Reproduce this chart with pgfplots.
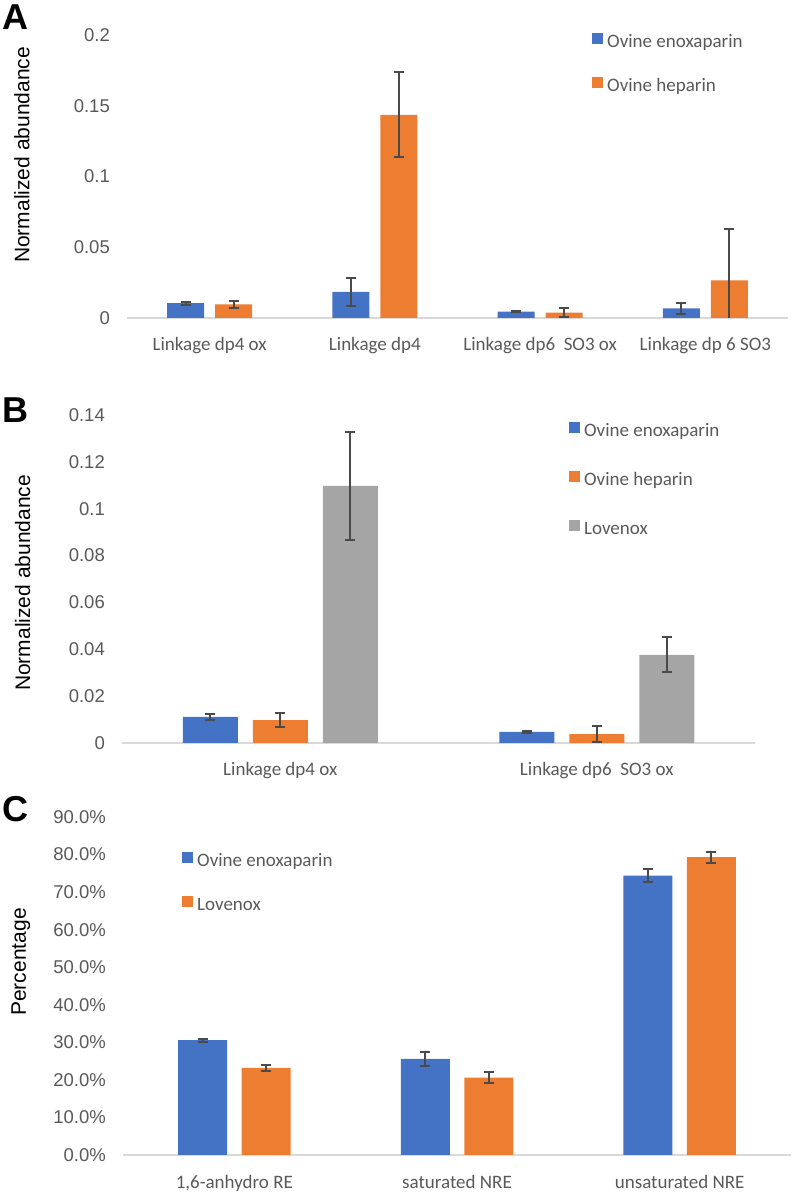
\documentclass[border=0pt]{standalone}
\usepackage{fontspec}
\setmainfont{Liberation Sans}
\newfontfamily\calibri{Carlito}
\usepackage{pgfplots}
\usepackage{pgfplotstable}
\pgfplotsset{compat=1.18}
\definecolor{exblue}{HTML}{4472C4}
\definecolor{exorange}{HTML}{ED7D31}
\definecolor{exgray}{HTML}{A5A5A5}
\definecolor{txtgray}{HTML}{595959}
\definecolor{axgray}{HTML}{D9D9D9}
\definecolor{errc}{HTML}{4A4A4A}

\pgfplotstableread{
x  b      eb     o      eo
0  0.0105 0.0010 0.0097 0.0025
1  0.0184 0.0100 0.1435 0.0300
2  0.0045 0.0004 0.0038 0.0033
3  0.0068 0.0041 0.0266 0.0360
}\dataA
\pgfplotstableread{
x  b      eb     o      eo     g      eg
0  0.0111 0.0013 0.0098 0.0030 0.1097 0.0230
1  0.0047 0.0003 0.0038 0.0035 0.0376 0.0075
}\dataB
\pgfplotstableread{
x  b     eb   o     eo
0  30.6  0.4  23.2  0.8
1  25.6  1.8  20.6  1.4
2  74.4  1.7  79.3  1.5
}\dataC

\pgfplotsset{
  exstyle/.style={
    scale only axis,
    anchor=south west,
    axis x line*=bottom, axis y line*=left,
    x axis line style={draw=axgray, line width=1.5bp},
    y axis line style={draw=none},
    major tick length=0pt,
    tick style={draw=none},
    xticklabel style={font=\calibri\fontsize{19bp}{22bp}\selectfont, text=txtgray, anchor=center, yshift=-29bp, inner sep=0pt, text height=12bp, text depth=4bp},
    yticklabel style={font=\fontsize{18.5bp}{22bp}\selectfont, text=txtgray, anchor=east, inner sep=0pt, xshift=-17bp},
    ylabel style={font=\fontsize{21bp}{25bp}\selectfont, text=black, anchor=center, inner sep=0pt},
    legend cell align=left,
    legend style={draw=none, fill=none, inner sep=0pt, anchor=north west, column sep=4bp,
      font=\calibri\fontsize{19bp}{22bp}\selectfont, text=txtgray,
      nodes={inner sep=0pt, text height=13bp, text depth=5bp}},
  },
  sqlegend/.style={legend image code/.code={\fill[##1] (0bp,-0.5bp) rectangle (11bp,10.5bp);}},
  eb/.style={error bars/.cd, y dir=both, y explicit,
    error bar style={line width=2bp, draw=errc},
    error mark options={rotate=90, mark size=5bp, line width=2bp, draw=errc}},
}

\begin{document}
\begin{tikzpicture}
\path[use as bounding box] (0,0) rectangle (792bp,1192bp);

% Panel A
\begin{axis}[exstyle, ybar=11bp, bar width=37bp,
  at={(127bp,874bp)}, width=661bp, height=283bp,
  xmin=-0.5, xmax=3.5, ymin=0, ymax=0.2,
  xtick={0,1,2,3},
  xticklabels={Linkage dp4 ox, Linkage dp4, Linkage dp6\ \ SO3 ox, Linkage dp 6 SO3},
  ytick={0,0.05,0.1,0.15,0.2},
  yticklabels={0,0.05,0.1,0.15,0.2},
  ylabel={Normalized abundance},
  ylabel style={at={(axis description cs:-0.159,0.576)}},
  legend style={at={(axis description cs:0.7035,1.008)}, row sep=25bp},
  sqlegend,
]
\addplot[fill=exblue, draw=none, eb] table[x=x, y=b, y error=eb] {\dataA};
\addplot[fill=exorange, draw=none, eb] table[x=x, y=o, y error=eo] {\dataA};
\legend{Ovine enoxaparin, Ovine heparin}
\end{axis}

% Panel B
\begin{axis}[exstyle, ybar=15bp, bar width=55bp,
  at={(122bp,449bp)}, width=633bp, height=328bp,
  xmin=-0.5, xmax=1.5, ymin=0, ymax=0.14,
  xtick={0,1},
  xticklabels={Linkage dp4 ox, Linkage dp6\ \ SO3 ox},
  ytick={0,0.02,0.04,0.06,0.08,0.1,0.12,0.14},
  yticklabels={0,0.02,0.04,0.06,0.08,0.1,0.12,0.14},
  ylabel={Normalized abundance},
  ylabel style={at={(axis description cs:-0.157,0.488)}},
  legend style={at={(axis description cs:0.706,0.979)}, row sep=29.5bp},
  sqlegend,
]
\addplot[fill=exblue, draw=none, eb] table[x=x, y=b, y error=eb] {\dataB};
\addplot[fill=exorange, draw=none, eb] table[x=x, y=o, y error=eo] {\dataB};
\addplot[fill=exgray, draw=none, eb] table[x=x, y=g, y error=eg] {\dataB};
\legend{Ovine enoxaparin, Ovine heparin, Lovenox}
\end{axis}

% Panel C
\begin{axis}[exstyle, ybar=14.5bp, bar width=49bp,
  at={(123bp,37bp)}, width=668bp, height=338bp,
  xmin=-0.5, xmax=2.5, ymin=0, ymax=90,
  xtick={0,1,2},
  xticklabels={{1,6-anhydro RE}, saturated NRE, unsaturated NRE},
  ytick={0,10,20,30,40,50,60,70,80,90},
  yticklabels={0.0\%,10.0\%,20.0\%,30.0\%,40.0\%,50.0\%,60.0\%,70.0\%,80.0\%,90.0\%},
  ylabel={Percentage},
  ylabel style={at={(axis description cs:-0.153,0.571)}},
  legend style={at={(axis description cs:0.0883,0.896)}, row sep=24bp},
  sqlegend,
]
\addplot[fill=exblue, draw=none, eb] table[x=x, y=b, y error=eb] {\dataC};
\addplot[fill=exorange, draw=none, eb] table[x=x, y=o, y error=eo] {\dataC};
\legend{Ovine enoxaparin, Lovenox}
\end{axis}

\node[anchor=base west, inner sep=0pt, font=\bfseries\fontsize{36bp}{40bp}\selectfont] at (2bp,1162bp) {A};
\node[anchor=base west, inner sep=0pt, font=\bfseries\fontsize{36bp}{40bp}\selectfont] at (2bp,769bp) {B};
\node[anchor=base west, inner sep=0pt, font=\bfseries\fontsize{36bp}{40bp}\selectfont] at (2bp,370bp) {C};
\end{tikzpicture}
\end{document}
